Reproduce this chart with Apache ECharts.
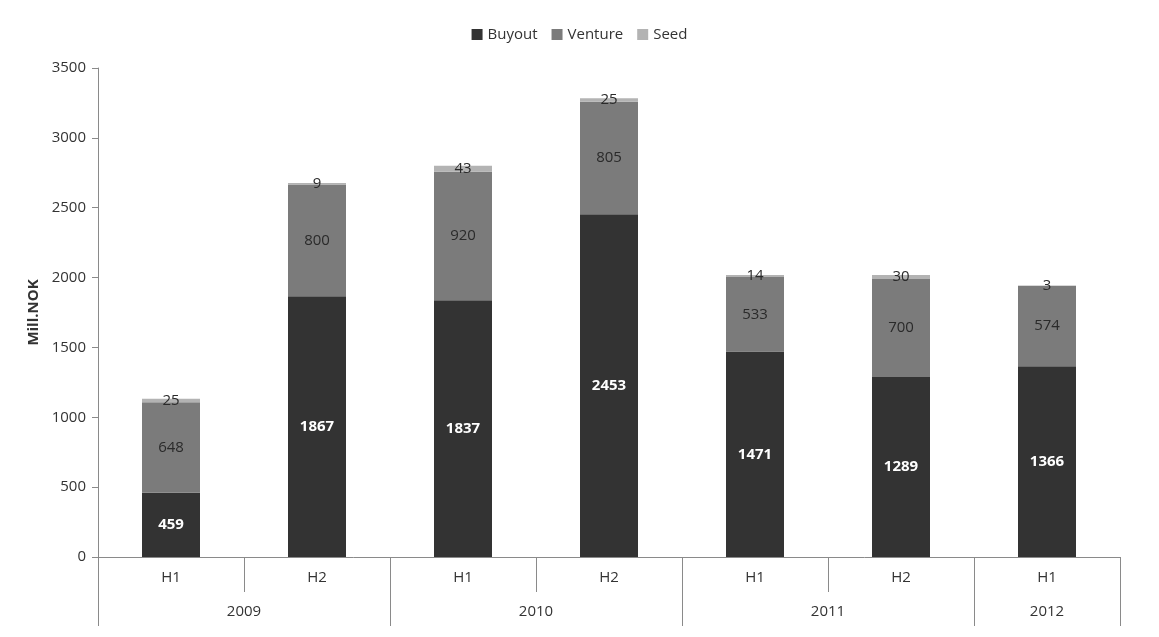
<!DOCTYPE html>
<html>
<head>
<meta charset="utf-8">
<script src="https://cdn.jsdelivr.net/npm/echarts@6/dist/echarts.min.js"></script>
<style>html,body{margin:0;padding:0;background:#fff}#c{width:1159px;height:637px}</style>
</head>
<body>
<div id="c"></div>
<script>
const halves = ['H1','H2','H1','H2','H1','H2','H1'];
const years = ['2009','2010','2011','2012'];
const yearCenters = [1, 3, 5, 6.5];
const yearBounds = [0, 2, 4, 6, 7];
const buyout = [459,1867,1837,2453,1471,1289,1366];
const venture = [648,800,920,805,533,700,574];
const seed = [25,9,43,25,14,30,3];

const FONT = '"Open Sans", "Liberation Sans", sans-serif';
const chart = echarts.init(document.getElementById('c'));
function lbl(color, bold){
  return {show:true, position:'inside', color:color, fontSize:15, fontFamily:FONT, fontWeight: bold?'bold':'normal'};
}
chart.setOption({
  animation:false,
  textStyle:{fontFamily:FONT},
  legend:{top:22, left:'center', icon:'rect', itemWidth:11, itemHeight:11, itemGap:14,
    textStyle:{fontSize:15, color:'#333', fontFamily:FONT},
    data:['Buyout','Venture','Seed']},
  grid:{left:98, right:39, top:68, bottom:80},
  xAxis:[
    {type:'category', data:halves, boundaryGap:true, position:'bottom',
     axisLine:{show:true, lineStyle:{color:'#8a8a8a'}},
     axisTick:{show:true, length:35, interval:0, alignWithLabel:false, lineStyle:{color:'#8a8a8a'}},
     axisLabel:{margin:13, interval:0, fontSize:15, color:'#333', fontFamily:FONT}},
    {type:'value', min:0, max:7, position:'bottom',
     axisLine:{show:false}, splitLine:{show:false},
     axisTick:{show:true, length:69, customValues:yearBounds, lineStyle:{color:'#8a8a8a'}},
     axisLabel:{margin:47, fontSize:15, color:'#333', fontFamily:FONT, customValues:yearCenters,
       formatter:function(v){ const i = yearCenters.indexOf(v); return i>=0 ? years[i] : ''; }}}
  ],
  yAxis:{type:'value', min:0, max:3500, interval:500,
    name:'Mill.NOK', nameLocation:'middle', nameGap:57, nameRotate:90,
    nameTextStyle:{fontSize:15, fontWeight:'bold', color:'#333', fontFamily:FONT},
    axisLine:{show:true, lineStyle:{color:'#8a8a8a'}},
    axisTick:{show:true, length:6, lineStyle:{color:'#8a8a8a'}},
    splitLine:{show:false},
    axisLabel:{fontSize:15, color:'#333', margin:12, fontFamily:FONT, formatter:function(v){return String(v);}}},
  series:[
    {name:'Buyout', type:'bar', stack:'s', data:buyout, barWidth:58, itemStyle:{color:'#333333'}, label:lbl('#ffffff', true)},
    {name:'Venture', type:'bar', stack:'s', data:venture, barWidth:58, itemStyle:{color:'#7b7b7b'}, label:lbl('#2a2a2a', false)},
    {name:'Seed', type:'bar', stack:'s', data:seed, barWidth:58, itemStyle:{color:'#b3b3b3'}, label:lbl('#2a2a2a', false)}
  ]
});
</script>
</body>
</html>
